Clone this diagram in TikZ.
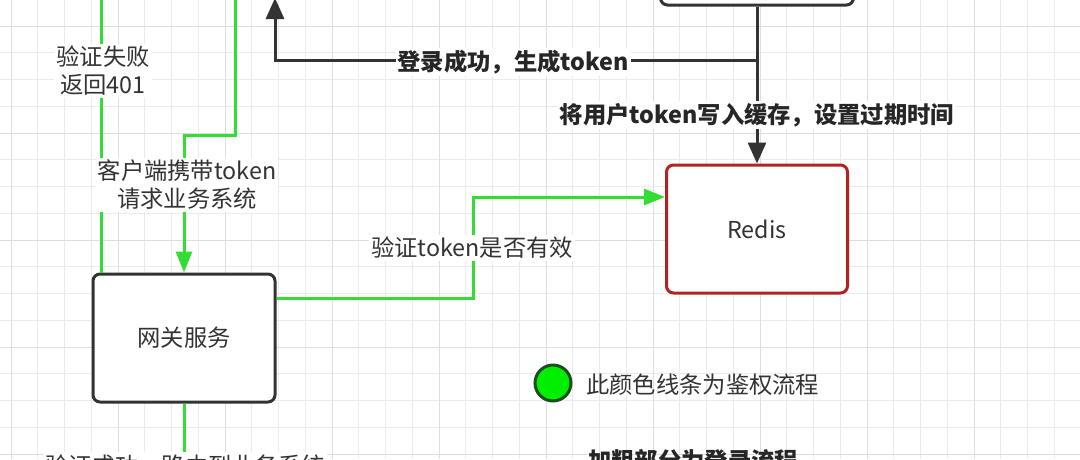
\documentclass[tikz,border=0pt]{standalone}
\usepackage{fontspec}
\setmainfont{Noto Sans CJK SC}
\usetikzlibrary{arrows.meta,calc}
\definecolor{gl}{HTML}{33DD33}
\definecolor{kc}{HTML}{333333}
\definecolor{boxc}{HTML}{333333}
\definecolor{redc}{HTML}{B22222}
\definecolor{txt}{HTML}{333333}
\definecolor{btxt}{HTML}{262626}
\definecolor{dotfill}{HTML}{00EE00}
\definecolor{dotdraw}{HTML}{1E4D1E}
\definecolor{gminor}{HTML}{EBEBEB}
\definecolor{gmajor}{HTML}{DEDEDE}
\begin{document}
\begin{tikzpicture}[x=1pt,y=-1pt,
  font=\fontsize{23.3}{28}\selectfont,
  box/.style={draw=boxc, line width=3pt, rounded corners=7pt, fill=white, text=txt, inner sep=0pt},
  gline/.style={draw=gl, line width=3pt, -{Triangle[length=21pt,width=16pt]}},
  kline/.style={draw=kc, line width=3pt, -{Triangle[length=21pt,width=18pt]}},
  lbl/.style={fill=white, text=txt, inner sep=2pt, align=center},
  blbl/.style={fill=white, text=btxt, inner sep=2pt, font=\fontsize{23.3}{28}\selectfont\bfseries},
]
\useasboundingbox (0,0) rectangle (1080,459);
\clip (0,0) rectangle (1080,459);
\fill[white] (0,0) rectangle (1080,459);
% grid
\foreach \i in {0,...,40} \draw[gminor, line width=0.8pt] ({11+26.75*\i},0) -- ++(0,459);
\foreach \j in {-1,...,17} \draw[gminor, line width=0.8pt] (0,{26+26.75*\j}) -- ++(1080,0);
\foreach \i in {0,...,10} \draw[gmajor, line width=1pt] ({11+107*\i},0) -- ++(0,459);
\foreach \j in {0,...,4} \draw[gmajor, line width=1pt] (0,{26+107*\j}) -- ++(1080,0);

% nodes
\node[box, minimum width=193pt, minimum height=84pt] (login) at (757,-37) {};
\node[box, minimum width=182pt, minimum height=128pt] (gw) at (184,338) {网关服务};
\node[box, draw=redc, minimum width=181pt, minimum height=128pt] (redis) at (757,229) {Redis};

\coordinate (clientA) at (275,-2);
\coordinate (j) at (757,60);
\coordinate (fail) at (101,-40);
\coordinate (c2) at (235,-40);
\coordinate (turn2) at (235,135);
\coordinate (vmid) at (473,250);
\coordinate (route) at (184,520);

% black login flow
\draw[kline] (login.south) -- (redis.north);
\draw[kline] (login.south) -- (j) -| (clientA);

% green auth flow
\draw[gline] (gw.north -| fail) -- (fail);
\draw[gline] (c2) -- (turn2) -| (gw.north);
\draw[gline] ([yshift=40pt]gw.east) -| (vmid) |- ([yshift=32pt]redis.west);
\draw[gline] (gw.south) -- (route);

% labels
\node[blbl] (l1) at (513,62) {登录成功，生成token};
\node[blbl] (l2) at (757,115) {将用户token写入缓存，设置过期时间};
\node[lbl] (l3) at (103,71) {验证失败\\返回401};
\node[lbl] (l4) at (187,185) {客户端携带token\\请求业务系统};
\node[lbl] (l5) at (472,248) {验证token是否有效};
\node[lbl, anchor=base] (l6) at (185,474) {验证成功，路由到业务系统};

% legend
\node[circle, draw=dotdraw, fill=dotfill, line width=3pt, minimum size=36pt, inner sep=0pt] (dot) at (553,383) {};
\node[text=txt, anchor=west, inner sep=0pt] (legtext) at (586,385) {此颜色线条为鉴权流程};
\node[text=btxt, anchor=base west, inner sep=0pt, font=\fontsize{23.3}{28}\selectfont\bfseries] (bold) at (588,469) {加粗部分为登录流程};
\end{tikzpicture}
\end{document}
